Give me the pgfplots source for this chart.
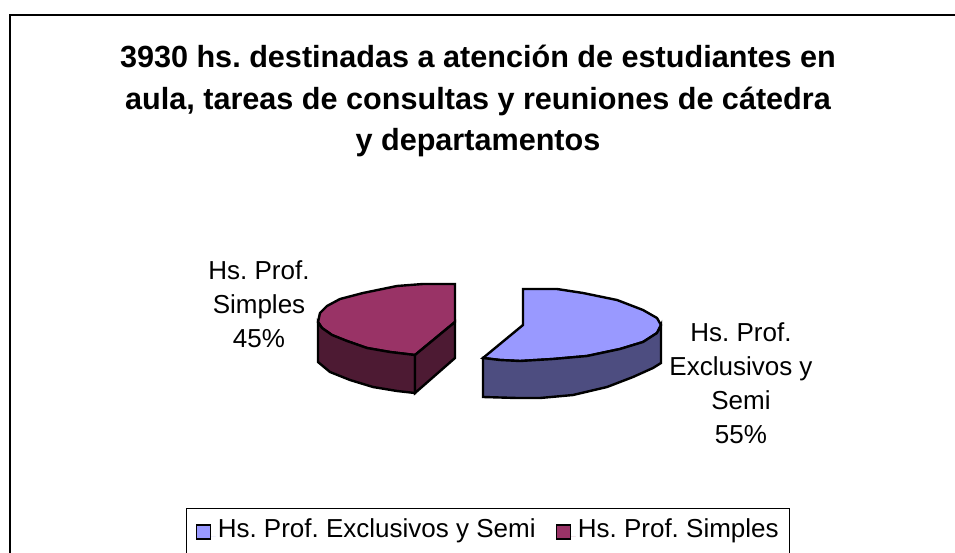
\documentclass[border=0pt]{standalone}
\usepackage{fontspec}
\setmainfont{Liberation Sans}
\usepackage{pgfplots}
\pgfplotsset{compat=1.18}
\definecolor{bluetop}{HTML}{9999FF}
\definecolor{blueside}{HTML}{4D4D80}
\definecolor{maroontop}{HTML}{993366}
\definecolor{maroonside}{HTML}{4D1A33}
\frenchspacing

\begin{document}
\begin{tikzpicture}[x=1pt,y=1pt]
\useasboundingbox (0,0) rectangle (955pt,553pt);
\begin{axis}[
  at={(0,0)}, anchor=south west,
  scale only axis,
  width=955pt, height=553pt,
  xmin=0, xmax=955,
  ymin=0, ymax=553,
  y dir=reverse,
  hide axis,
  clip=false,
  legend columns=2,
  legend cell align=left,
  legend image code/.code={
    \path[draw=none] (0pt,0pt) -- (19.5pt,0pt);
    \draw[#1, line width=1.5pt] (0pt,-2pt) rectangle (14pt,12pt);
  },
  legend style={
    at={(186/955,45/553)}, anchor=north west,
    draw=black, line width=1pt,
    font=\fontsize{26}{30}\selectfont,
    inner xsep=9pt, inner ysep=8pt,
    nodes={text depth=18pt},
    /tikz/every even column/.append style={column sep=18pt},
  },
]
  % chart area border, open at the right and the bottom
  \addplot[forget plot, black, line width=2.6pt] coordinates {(10,553) (10,15) (955,15)};

  % slice 55%
  \addplot[draw=black, line width=2.4pt, fill=bluetop] coordinates {
    (523,289) (557,289) (583,293) (617,300) (643,310) (657,318) (661,325)
    (657,333) (643,342) (620,349) (587,356) (553,359) (520,361) (500,360)
    (483,358) (523,325)
  } -- cycle;
  \addlegendentry{Hs. Prof. Exclusivos y Semi}
  \addplot[forget plot, draw=black, line width=2.4pt, fill=blueside] coordinates {
    (483,358) (483,397) (517,398) (540,398) (573,395) (607,387) (633,377)
    (653,368) (661,363) (661,325) (657,333) (643,342) (620,349) (587,356)
    (553,359) (520,361) (500,360)
  } -- cycle;

  % slice 45%
  \addplot[draw=black, line width=2.4pt, fill=maroontop] coordinates {
    (455,284) (423,284) (397,286) (363,293) (340,299) (327,306) (320,313)
    (318,322) (322,328) (332,335) (347,341) (367,348) (390,352) (415,355)
    (455,322)
  } -- cycle;
  \addlegendentry{Hs. Prof. Simples}
  \addplot[forget plot, draw=black, line width=2.4pt, fill=maroonside] coordinates {
    (318,322) (318,362) (330,372) (350,380) (373,387) (397,391) (415,393)
    (415,355) (390,352) (367,348) (347,341) (332,335) (322,328)
  } -- cycle;
  \addplot[forget plot, draw=black, line width=2.4pt, fill=maroonside] coordinates {
    (415,355) (415,393) (455,358) (455,322)
  } -- cycle;

  \node[align=center, font=\fontsize{30.6}{41.5}\selectfont\bfseries] at (axis cs:478,101)
    {3930 hs. destinadas a atención de estudiantes en\\
     aula, tareas de consultas y reuniones de cátedra\\
     y departamentos};
  \node[align=center, font=\fontsize{26}{34}\selectfont] at (axis cs:259,304)
    {Hs. Prof.\\Simples\\45\%};
  \node[align=center, font=\fontsize{26}{34}\selectfont] at (axis cs:741,383)
    {Hs. Prof.\\Exclusivos y\\Semi\\55\%};
\end{axis}
\end{tikzpicture}
\end{document}
